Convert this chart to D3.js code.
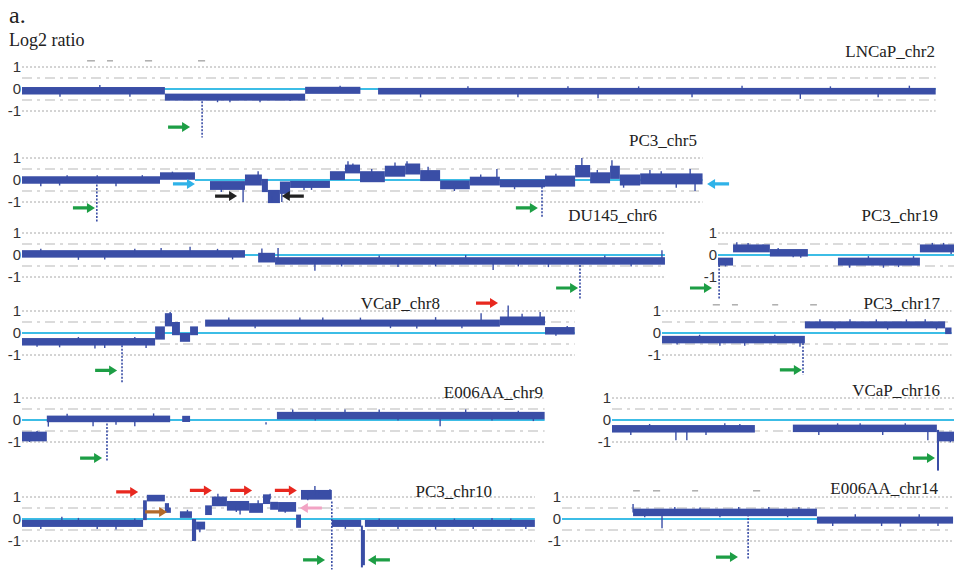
<!DOCTYPE html>
<html>
<head>
<meta charset="utf-8">
<script src="https://cdn.jsdelivr.net/npm/d3@7"></script>
<style>
  body { margin: 0; background: #fff; }
  .serif { font-family: "Liberation Serif", "Times New Roman", serif; fill: #222; }
  .tick { font-family: "Liberation Sans", Arial, sans-serif; font-size: 15px; fill: #333; }
</style>
</head>
<body>
<div id="chart"></div>
<script>
// ---- data (positions in Mb, values in log2 ratio) ----
// segments: [start, end, mean, half spread]
const chr2Segments = [[0, 38.0, -0.08, 0.17], [38.0, 75.3, -0.37, 0.16], [75.3, 90.0, -0.06, 0.16], [94.7, 243, -0.1, 0.15]];
const chr2Outliers = [[10.1, -0.35], [20.7, 0.18], [28.7, -0.35], [52, -0.6], [55.3, -0.6], [63.3, -0.6], [71.3, -0.55], [84.6, 0.15],
  [106, -0.38], [118.6, 0.12], [131.9, -0.38], [145.2, 0.12], [153.2, -0.42], [164, 0.12], [178.2, -0.38], [191.5, 0.15],
  [207, -0.45], [215, 0.12], [227.7, -0.38], [236, 0.15]];
const chr2Deletions = [[47.9, -0.4, -2.2, true]];
const chr2Arrows = [[44.7, -1.73, 'green', 'r']];
const chr2Marks = [[17.3, 19.4], [22.6, 24.2], [32.7, 34.6], [46.8, 48.7]];

const chr5Segments = [
  [0, 36.7, 0.0, 0.17], [36.7, 46.0, 0.18, 0.17],
  [50.0, 59.3, -0.25, 0.2], [59.3, 63.8, 0.0, 0.25], [63.8, 65.4, -0.25, 0.3], [65.4, 68.6, -0.75, 0.3], [68.6, 71.3, -0.35, 0.28],
  [71.3, 81.9, -0.2, 0.16], [81.9, 85.9, 0.2, 0.2], [85.9, 89.9, 0.5, 0.2], [89.9, 96.5, 0.15, 0.25], [96.5, 101.9, 0.4, 0.25],
  [101.9, 105.9, 0.5, 0.25], [105.9, 111.2, 0.2, 0.25], [111.2, 119.1, -0.22, 0.2], [119.1, 127.1, -0.05, 0.2],
  [127.1, 139.1, -0.15, 0.18], [139.1, 147.1, -0.05, 0.25], [147.1, 151.1, 0.4, 0.28], [151.1, 156.4, 0.1, 0.25],
  [156.4, 159.0, 0.35, 0.3], [159.0, 164.4, 0.0, 0.25], [164.4, 181, 0.05, 0.25]
];
const chr5Outliers = [[58.8, -1.0], [62.8, 0.4], [66.5, -1.05], [69.1, -1.0], [86.7, 0.85], [99.2, 0.8], [102.4, 0.85], [126.3, 0.5],
  [148.9, 1.0], [156.9, 0.9], [167, 0.45], [177.7, 0.5], [179, -0.5], [20, 0.22], [10, -0.25], [75, -0.45],
  [5, -0.28], [12, 0.22], [25, -0.28], [32, 0.22], [40, 0.38], [53, -0.55], [77, -0.45], [88, 0.75], [93, 0.5],
  [108, 0.6], [115, -0.5], [122, 0.25], [131, -0.42], [142, 0.28], [153, 0.45], [160, -0.35], [170, 0.4], [174, -0.35]];
const chr5Deletions = [[19.9, -0.05, -1.9, true], [138.3, -0.15, -1.7, true]];
const chr5Arrows = [[46.0, -0.18, 'cyan', 'r'], [19.4, -1.27, 'green', 'r'], [57.2, -0.73, 'black', 'r'],
  [69.1, -0.73, 'black', 'l'], [137.2, -1.27, 'green', 'r'], [182.2, -0.18, 'cyan', 'l']];

const chr6Segments = [[0, 59.3, 0.05, 0.17], [62.8, 67.3, -0.12, 0.22], [67.3, 171, -0.27, 0.17]];
const chr6Outliers = [[44.7, 0.38], [63.8, 0.3], [68.1, 0.32], [77.9, -0.72], [125.3, -0.68], [170.2, 0.22], [15, -0.22], [30, 0.28],
  [100, -0.55], [140, -0.55], [5, 0.28], [22, -0.2], [37, 0.32], [52, 0.28], [56, -0.2], [85, -0.52], [95, -0.02], [110, -0.52],
  [118, 0.0], [132, -0.52], [155, -0.02], [162, -0.52]];
const chr6Deletions = [[148.4, -0.3, -2.05, true]];
const chr6Arrows = [[147.9, -1.5, 'green', 'r']];

const chr19Segments = [[0, 4.0, -0.3, 0.18], [4.0, 13.8, 0.3, 0.18], [13.8, 23.9, 0.1, 0.17], [31.9, 53.7, -0.3, 0.18], [53.7, 64, 0.3, 0.18]];
const chr19Outliers = [[5, 0.58], [12, 0.48], [20, -0.1], [35, -0.58], [48, -0.55], [60, 0.55], [2, -0.52], [8, 0.55], [16, 0.32],
  [22, -0.12], [40, -0.05], [44, -0.58], [52, -0.05], [57, 0.55], [62, 0.05]];
const chr19Deletions = [[0.3, -0.3, -2.05, true]];
const chr19Arrows = [[-1.6, -1.5, 'green', 'r']];

const chr8Segments = [[0, 35.4, -0.4, 0.17], [35.4, 38.0, 0.0, 0.3], [38.0, 39.9, 0.6, 0.3], [39.9, 42.0, 0.2, 0.3], [42.0, 44.7, -0.2, 0.2],
  [44.7, 46.8, 0.1, 0.2], [48.7, 127.1, 0.45, 0.16], [127.1, 139.1, 0.55, 0.2], [139.1, 147, 0.1, 0.17]];
const chr8Outliers = [[39.4, 0.95], [122.1, 0.9], [129.3, 1.25], [137.8, 0.95], [73.9, 0.7], [19.4, -0.7], [10, -0.65], [90, 0.7], [105, 0.2],
  [4, -0.62], [15, -0.18], [22, -0.68], [30, -0.18], [33, -0.68], [55, 0.7], [62, 0.22], [80, 0.7], [98, 0.22], [110, 0.72],
  [117, 0.22], [133, 0.88], [142, -0.12], [145, 0.32]];
const chr8Deletions = [[26.6, -0.4, -2.3, true]];
const chr8Arrows = [[25.3, -1.7, 'green', 'r'], [126.6, 1.36, 'red', 'r']];

const chr17Segments = [[0, 38.0, -0.3, 0.17], [38.0, 75.3, 0.37, 0.16], [75.3, 77, 0.1, 0.15]];
const chr17Outliers = [[15.4, -0.58], [36.7, -0.62], [50, 0.62], [65, 0.62], [4, -0.52], [10, -0.08], [22, -0.58], [30, -0.08],
  [42, 0.62], [46, 0.15], [57, 0.62], [60, 0.15], [70, 0.62], [73, 0.15]];
const chr17Deletions = [[37.5, -0.3, -1.9, true]];
const chr17Arrows = [[37.2, -1.68, 'green', 'r']];
const chr17Marks = [[13.5, 15.4], [18.6, 20.2], [29.3, 30.9], [39.4, 41.2]];

const chr9Segments = [[0, 6.6, -0.75, 0.22], [6.6, 39.4, 0.05, 0.15], [42.6, 44.7, 0.05, 0.14], [67.8, 139, 0.2, 0.17]];
const chr9Outliers = [[18.9, -0.28], [64.9, -0.2], [111.2, -0.28], [85.9, 0.48], [7, -0.3], [30, -0.28], [2, -1.0], [4, -0.5],
  [12, 0.28], [25, -0.22], [35, 0.3], [72, 0.48], [78, -0.02], [95, 0.48], [100, -0.02], [118, 0.48], [125, -0.02], [132, 0.42], [136, -0.05]];
const chr9Deletions = [[22.6, 0.0, -1.9, true]];
const chr9Arrows = [[21.3, -1.73, 'green', 'r']];

const chr16Segments = [[0, 38.0, -0.4, 0.17], [48.1, 86.4, -0.38, 0.17], [86.4, 92.5, -0.75, 0.22]];
const chr16Outliers = [[17.0, -0.92], [19.9, -0.92], [84.0, -0.92], [30, -0.15], [60, -0.15], [5, -0.68], [10, -0.18], [25, -0.68],
  [34, -0.18], [55, -0.68], [66, -0.15], [72, -0.68], [78, -0.15], [90, -1.02]];
const chr16Deletions = [[86.7, -0.45, -2.3, false]];
const chr16Arrows = [[85.9, -1.73, 'green', 'r']];

const chr10Segments = [[0, 32.2, -0.2, 0.16], [32.2, 33.2, 0.4, 0.45], [33.2, 38.0, 0.95, 0.15], [38.0, 39.1, 0.5, 0.22], [39.1, 39.6, 0.4, 0.12],
  [42.0, 45.2, 0.2, 0.15], [45.2, 46.3, -0.5, 0.5], [46.3, 48.7, -0.3, 0.18], [48.7, 50.5, 0.4, 0.22], [50.5, 54.5, 0.8, 0.22],
  [54.5, 60.4, 0.6, 0.22], [60.4, 64.1, 0.5, 0.22], [64.1, 66.0, 0.9, 0.22], [66.0, 68.1, 0.6, 0.18], [68.1, 72.9, 0.55, 0.22],
  [72.9, 74.2, -0.1, 0.3], [74.2, 82.4, 1.1, 0.22], [82.4, 90.2, -0.2, 0.16], [90.2, 91.2, -1.3, 0.8], [91.2, 136.4, -0.2, 0.16]];
const chr10Outliers = [[52.1, 1.15], [62.8, 0.85], [66, 1.15], [77.9, 1.5], [81.9, 1.35], [10.6, 0.1], [47.3, -0.6], [58, 0.2],
  [25, -0.48], [110, -0.48], [125, 0.05], [5, -0.45], [15, 0.05], [20, -0.45], [30, 0.02], [44, 0.42], [57, 0.32], [70, 0.28],
  [76, 0.85], [79, 1.3], [86, -0.45], [95, 0.02], [100, -0.45], [115, 0.02], [120, -0.45], [130, 0.02], [134, -0.45]];
const chr10Deletions = [[82.4, 0.8, -2.3, true], [90.4, -0.3, -2.2, false]];
const chr10Arrows = [[30.9, 1.23, 'red', 'r'], [38.6, 0.32, 'brown', 'r'], [50.5, 1.3, 'red', 'r'], [61.2, 1.3, 'red', 'r'],
  [73.1, 1.3, 'red', 'r'], [73.9, 0.5, 'pink', 'l'], [80.6, -1.86, 'green', 'r'], [92.0, -1.86, 'green', 'l']];

const chr14Segments = [[18.9, 67.8, 0.3, 0.17], [67.8, 104, -0.05, 0.16]];
const chr14Outliers = [[18.9, 0.68], [26.6, -0.42], [36.7, 0.52], [55, 0.55], [90, -0.35], [22, 0.08], [30, 0.55], [42, 0.08],
  [47, 0.55], [60, 0.08], [63, 0.55], [72, -0.32], [78, 0.22], [85, -0.32], [95, 0.22], [100, -0.32]];
const chr14Deletions = [[49.5, 0.2, -1.8, true]];
const chr14Arrows = [[46.8, -1.73, 'green', 'r']];
const chr14Marks = [[18.9, 20.7], [24.2, 26.1], [34.6, 36.2], [50.8, 52.7]];

const tickValues = [1, 0, -1];
const tickLabels = ['1', '0', '-1'];
const gridLevels = [1, 0.5, -0.5, -1];

const panels = [
  { label: 'LNCaP_chr2', len: 243, segments: chr2Segments, outliers: chr2Outliers, deletions: chr2Deletions, arrows: chr2Arrows, marks: chr2Marks },
  { label: 'PC3_chr5', len: 181, baseStart: 46, segments: chr5Segments, outliers: chr5Outliers, deletions: chr5Deletions, arrows: chr5Arrows },
  { label: 'DU145_chr6', len: 171, segments: chr6Segments, outliers: chr6Outliers, deletions: chr6Deletions, arrows: chr6Arrows },
  { label: 'PC3_chr19', len: 64, segments: chr19Segments, outliers: chr19Outliers, deletions: chr19Deletions, arrows: chr19Arrows },
  { label: 'VCaP_chr8', len: 147, segments: chr8Segments, outliers: chr8Outliers, deletions: chr8Deletions, arrows: chr8Arrows },
  { label: 'PC3_chr17', len: 77, segments: chr17Segments, outliers: chr17Outliers, deletions: chr17Deletions, arrows: chr17Arrows, marks: chr17Marks },
  { label: 'E006AA_chr9', len: 139, segments: chr9Segments, outliers: chr9Outliers, deletions: chr9Deletions, arrows: chr9Arrows },
  { label: 'VCaP_chr16', len: 92.5, segments: chr16Segments, outliers: chr16Outliers, deletions: chr16Deletions, arrows: chr16Arrows },
  { label: 'PC3_chr10', len: 136.4, segments: chr10Segments, outliers: chr10Outliers, deletions: chr10Deletions, arrows: chr10Arrows },
  { label: 'E006AA_chr14', len: 104, segments: chr14Segments, outliers: chr14Outliers, deletions: chr14Deletions, arrows: chr14Arrows, marks: chr14Marks }
];

// ---- layout ----
const width = 954, height = 571;
const pxPerMb = 3.76, unit = 22;
const layout = [
  { x0: 22, y0: 89, lx: 935, ly: 57 },
  { x0: 22, y0: 180, lx: 697, ly: 146 },
  { x0: 22, y0: 255, lx: 657, ly: 221 },
  { x0: 718, y0: 255, lx: 938, ly: 221 },
  { x0: 22, y0: 333, lx: 440, ly: 309 },
  { x0: 662, y0: 333, lx: 940, ly: 309 },
  { x0: 22, y0: 420, lx: 543, ly: 398 },
  { x0: 612, y0: 420, lx: 940, ly: 396 },
  { x0: 22, y0: 519, lx: 492, ly: 497 },
  { x0: 562, y0: 519, lx: 938, ly: 494 }
];
const colors = { trace: '#3a4ea6', base: '#3cbde6', green: '#1d9e45', red: '#e8281f', brown: '#b26a2a', pink: '#f2a3c4', cyan: '#2fb2e8', black: '#222' };

const svg = d3.select('#chart').append('svg')
  .attr('width', width).attr('height', height)
  .style('display', 'block');

svg.append('text').attr('class', 'serif').attr('x', 9).attr('y', 23).style('font-size', '24px').text('a.');
svg.append('text').attr('class', 'serif').attr('x', 9).attr('y', 46).style('font-size', '18px').text('Log2 ratio');

function arrowPath(tx, ty, dir) {
  const L = 22, h = 8, hw = 5, sw = 1.6;
  const s = dir === 'r' ? 1 : -1;
  const pts = [[tx - s * L, ty - sw], [tx - s * h, ty - sw], [tx - s * h, ty - hw], [tx, ty], [tx - s * h, ty + hw], [tx - s * h, ty + sw], [tx - s * L, ty + sw]];
  return 'M' + pts.map(p => p.join(',')).join('L') + 'Z';
}

panels.forEach((p, i) => {
  const lay = layout[i];
  const x = d3.scaleLinear().domain([0, p.len]).range([lay.x0, lay.x0 + p.len * pxPerMb]);
  const y = d3.scaleLinear().domain([-1, 1]).range([lay.y0 + unit, lay.y0 - unit]);
  const g = svg.append('g');

  // grid lines
  g.selectAll('.grid').data(gridLevels).enter().append('line')
    .attr('x1', x(0)).attr('x2', x(p.len))
    .attr('y1', d => y(d)).attr('y2', d => y(d))
    .attr('stroke', d => Math.abs(d) === 1 ? '#a8a8a8' : '#cfcfcf')
    .attr('stroke-width', d => Math.abs(d) === 1 ? 1 : 1.6)
    .attr('stroke-dasharray', d => Math.abs(d) === 1 ? '2,2' : '10,5,3,5');

  // tick labels
  g.selectAll('.tick').data(tickValues).enter().append('text')
    .attr('class', 'tick')
    .attr('x', x(0) - 1).attr('y', d => y(d))
    .attr('dy', '0.36em').attr('text-anchor', 'end')
    .text((d, k) => tickLabels[k]);

  // small top marks
  (p.marks || []).forEach(m => {
    g.append('line').attr('x1', x(m[0])).attr('x2', x(m[1]))
      .attr('y1', y(1.28)).attr('y2', y(1.28))
      .attr('stroke', '#999').attr('stroke-width', 1.2);
  });

  // baseline
  g.append('line')
    .attr('x1', x(p.baseStart || 0)).attr('x2', x(p.len))
    .attr('y1', y(0)).attr('y2', y(0))
    .attr('stroke', colors.base).attr('stroke-width', 2.2);

  // segments
  g.selectAll('.seg').data(p.segments).enter().append('rect')
    .attr('x', d => x(d[0])).attr('width', d => Math.max(1, x(d[1]) - x(d[0])))
    .attr('y', d => y(d[2] + d[3])).attr('height', d => y(d[2] - d[3]) - y(d[2] + d[3]))
    .attr('fill', colors.trace);

  // outlier probes
  g.selectAll('.out').data(p.outliers).enter().append('line')
    .attr('x1', d => x(d[0])).attr('x2', d => x(d[0]))
    .attr('y1', d => {
      const s = p.segments.find(s => d[0] >= s[0] && d[0] <= s[1]);
      return y(s ? s[2] : d[1] * 0.5);
    })
    .attr('y2', d => y(d[1]))
    .attr('stroke', colors.trace).attr('stroke-width', 1.4);

  // homozygous deletions
  g.selectAll('.del').data(p.deletions).enter().append('line')
    .attr('x1', d => x(d[0])).attr('x2', d => x(d[0]))
    .attr('y1', d => y(d[1])).attr('y2', d => y(d[2]))
    .attr('stroke', colors.trace)
    .attr('stroke-width', d => d[3] ? 1.6 : 2)
    .attr('stroke-dasharray', d => d[3] ? '2,1.5' : null);

  // arrows
  g.selectAll('.arrow').data(p.arrows).enter().append('path')
    .attr('d', d => arrowPath(x(d[0]), y(d[1]), d[3]))
    .attr('fill', d => colors[d[2]]);

  // label
  g.append('text').attr('class', 'serif')
    .attr('x', lay.lx).attr('y', lay.ly)
    .attr('text-anchor', 'end').style('font-size', '17px')
    .text(p.label);
});
</script>
</body>
</html>
